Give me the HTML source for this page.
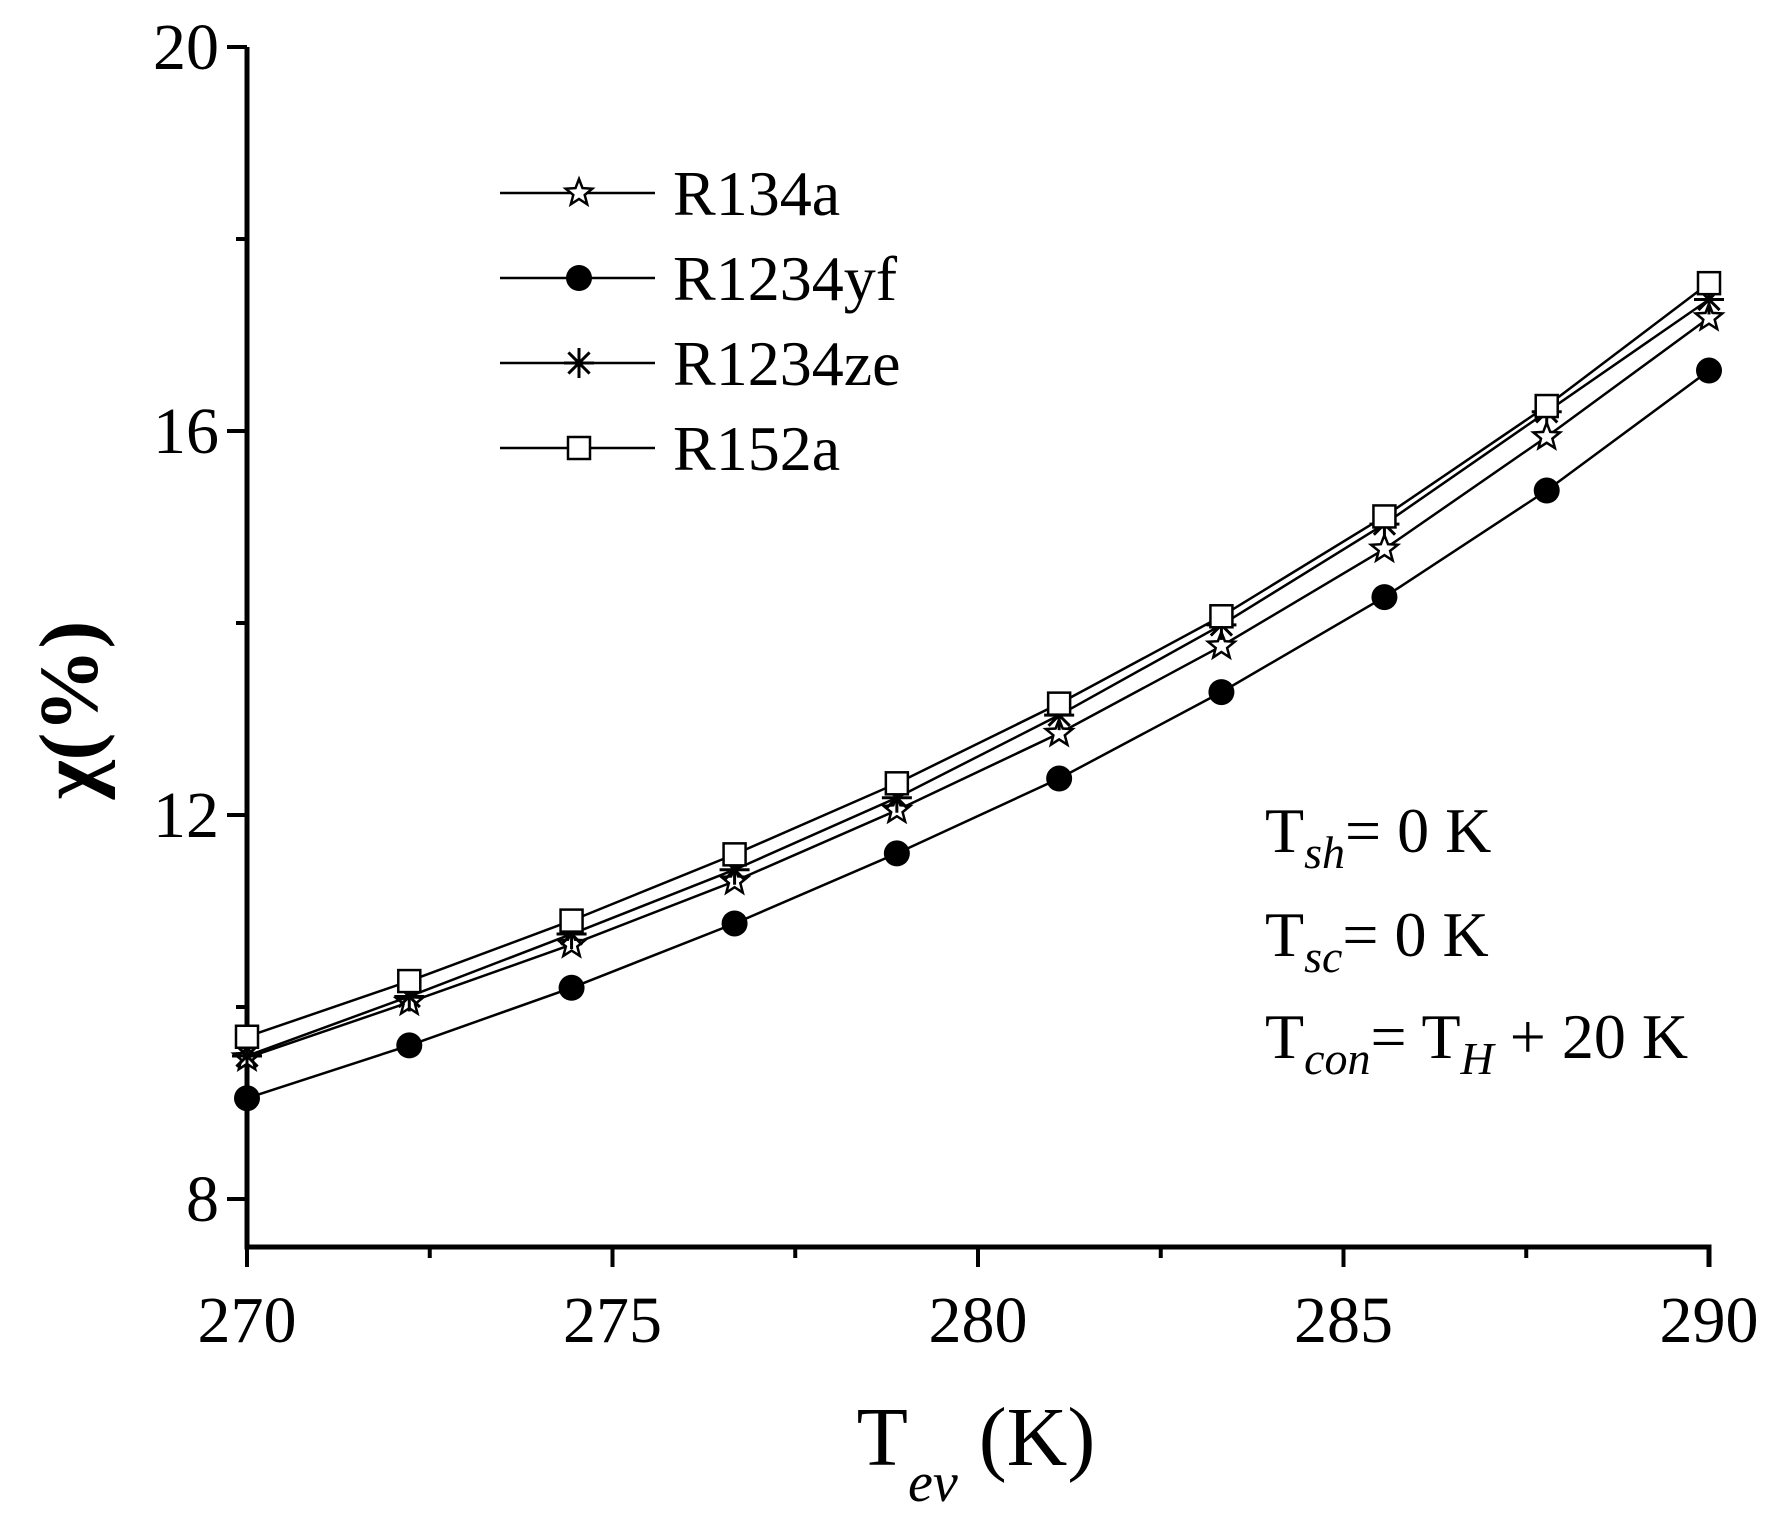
<!DOCTYPE html>
<html><head><meta charset="utf-8"><style>
body{margin:0;background:#fff}
svg text{font-family:"Liberation Serif",serif;fill:#000}
</style></head><body>
<svg id="chart" width="1779" height="1520" viewBox="0 0 1779 1520" xmlns="http://www.w3.org/2000/svg">
<g id="axes"></g>
<g id="series"></g>
<g id="legend"></g>
<text transform="translate(97,710) rotate(-90)" text-anchor="middle" font-size="84" font-weight="bold">χ(%)</text>
<text x="976" y="1465" text-anchor="middle" font-size="84">T<tspan font-style="italic" font-size="56" dy="36">ev</tspan><tspan dy="-36"> (K)</tspan></text>
<g font-size="64">
<text x="1265" y="852">T<tspan font-style="italic" font-size="46" dy="16">sh</tspan><tspan dy="-16">= 0 K</tspan></text>
<text x="1265" y="956">T<tspan font-style="italic" font-size="46" dy="16">sc</tspan><tspan dy="-16">= 0 K</tspan></text>
<text x="1265" y="1058">T<tspan font-style="italic" font-size="46" dy="16">con</tspan><tspan dy="-16">= T</tspan><tspan font-style="italic" font-size="46" dy="16">H</tspan><tspan dy="-16"> + 20 K</tspan></text>
</g>
</svg>
<script>
const xValues=[270,272.22,274.44,276.67,278.89,281.11,283.33,285.56,287.78,290];
const r134a=[9.47,10.05,10.65,11.31,12.05,12.85,13.76,14.77,15.94,17.18];
const r1234yf=[9.05,9.60,10.20,10.87,11.60,12.38,13.28,14.27,15.38,16.63];
const r1234ze=[9.49,10.11,10.76,11.43,12.18,13.04,13.98,15.03,16.20,17.37];
const r152a=[9.69,10.27,10.90,11.59,12.33,13.16,14.07,15.11,16.26,17.54];
const xTicks=[270,275,280,285,290];
const yTicks=[8,12,16,20];
const seriesNames=["R134a","R1234yf","R1234ze","R152a"];
const NS="http://www.w3.org/2000/svg";
const X0=247,X1=1709,Y0=1247,YT=47;
function sx(v){return X0+(v-270)/20*(X1-X0);}
function sy(v){return 1199-(v-8)/12*(1199-47);}
function mk(tag,attrs,parent){const e=document.createElementNS(NS,tag);for(const k in attrs)e.setAttribute(k,attrs[k]);parent.appendChild(e);return e;}
const axes=document.getElementById('axes');
let e=mk('path',{d:`M${X0},${YT} V${Y0} H${X1} V${Y0+20}`,fill:'none',stroke:'#000','stroke-width':5},axes);


xTicks.forEach(t=>{
 let l=mk('line',{x1:sx(t),x2:sx(t),y1:Y0,y2:Y0+20,stroke:'#000','stroke-width':4},axes);
 
 
 let tx=mk('text',{x:sx(t),y:1342,'text-anchor':'middle','font-size':66},axes);tx.textContent=t;
 
 
 if(t<290){let m=mk('line',{x1:sx(t+2.5),x2:sx(t+2.5),y1:Y0,y2:Y0+11,stroke:'#000','stroke-width':4},axes);
 
 }
});
yTicks.forEach(t=>{
 let l=mk('line',{x1:X0-20,x2:X0,y1:sy(t),y2:sy(t),stroke:'#000','stroke-width':4},axes);
 
 
 let tx=mk('text',{x:X0-28,y:sy(t)+22,'text-anchor':'end','font-size':66},axes);tx.textContent=t;
 
 
 if(t<20){let m=mk('line',{x1:X0-11,x2:X0,y1:sy(t+2),y2:sy(t+2),stroke:'#000','stroke-width':4},axes);
 
 }
});
function marker(type,x,y,parent){
 let g=mk('g',{},parent);
 if(type==='circle'){mk('circle',{cx:x,cy:y,r:13,fill:'#000'},g);}
 else if(type==='square'){mk('rect',{x:x-11,y:y-11,width:22,height:22,fill:'#fff',stroke:'#000','stroke-width':2.5},g);}
 else if(type==='star'){let p=[];for(let i=0;i<10;i++){const r=i%2?6:14,a=-Math.PI/2+i*Math.PI/5;p.push((x+r*Math.cos(a)).toFixed(1)+','+(y+r*Math.sin(a)).toFixed(1));}
  mk('polygon',{points:p.join(' '),fill:'#fff',stroke:'#000','stroke-width':2.5},g);}
 else {const r=15;for(let i=0;i<4;i++){const a=i*Math.PI/4;mk('line',{x1:x-r*Math.cos(a),y1:y-r*Math.sin(a),x2:x+r*Math.cos(a),y2:y+r*Math.sin(a),stroke:'#000','stroke-width':3},g);}}
 return g;
}
const sData=[r134a,r1234yf,r1234ze,r152a];
const sMark=['star','circle','asterisk','square'];
const sg=document.getElementById('series');
const order=[1,0,2,3];
order.forEach(i=>{
 const d=sData[i];
 let pl=mk('polyline',{points:d.map((v,j)=>sx(xValues[j])+','+sy(v)).join(' '),fill:'none',stroke:'#000','stroke-width':2.5},sg);
 
 
 d.forEach((v,j)=>{let m=marker(sMark[i],sx(xValues[j]),sy(v),sg);
  
  });
});
const lg=document.getElementById('legend');
seriesNames.forEach((n,i)=>{
 const y=193+i*85;
 let g=mk('g',{},lg);
 
 
 mk('line',{x1:500,x2:655,y1:y,y2:y,stroke:'#000','stroke-width':2.5},g);
 marker(sMark[i],579,y,g);
 let t=mk('text',{x:673,y:y+22,'font-size':64},g);t.textContent=n;
});
</script>
</body></html>
